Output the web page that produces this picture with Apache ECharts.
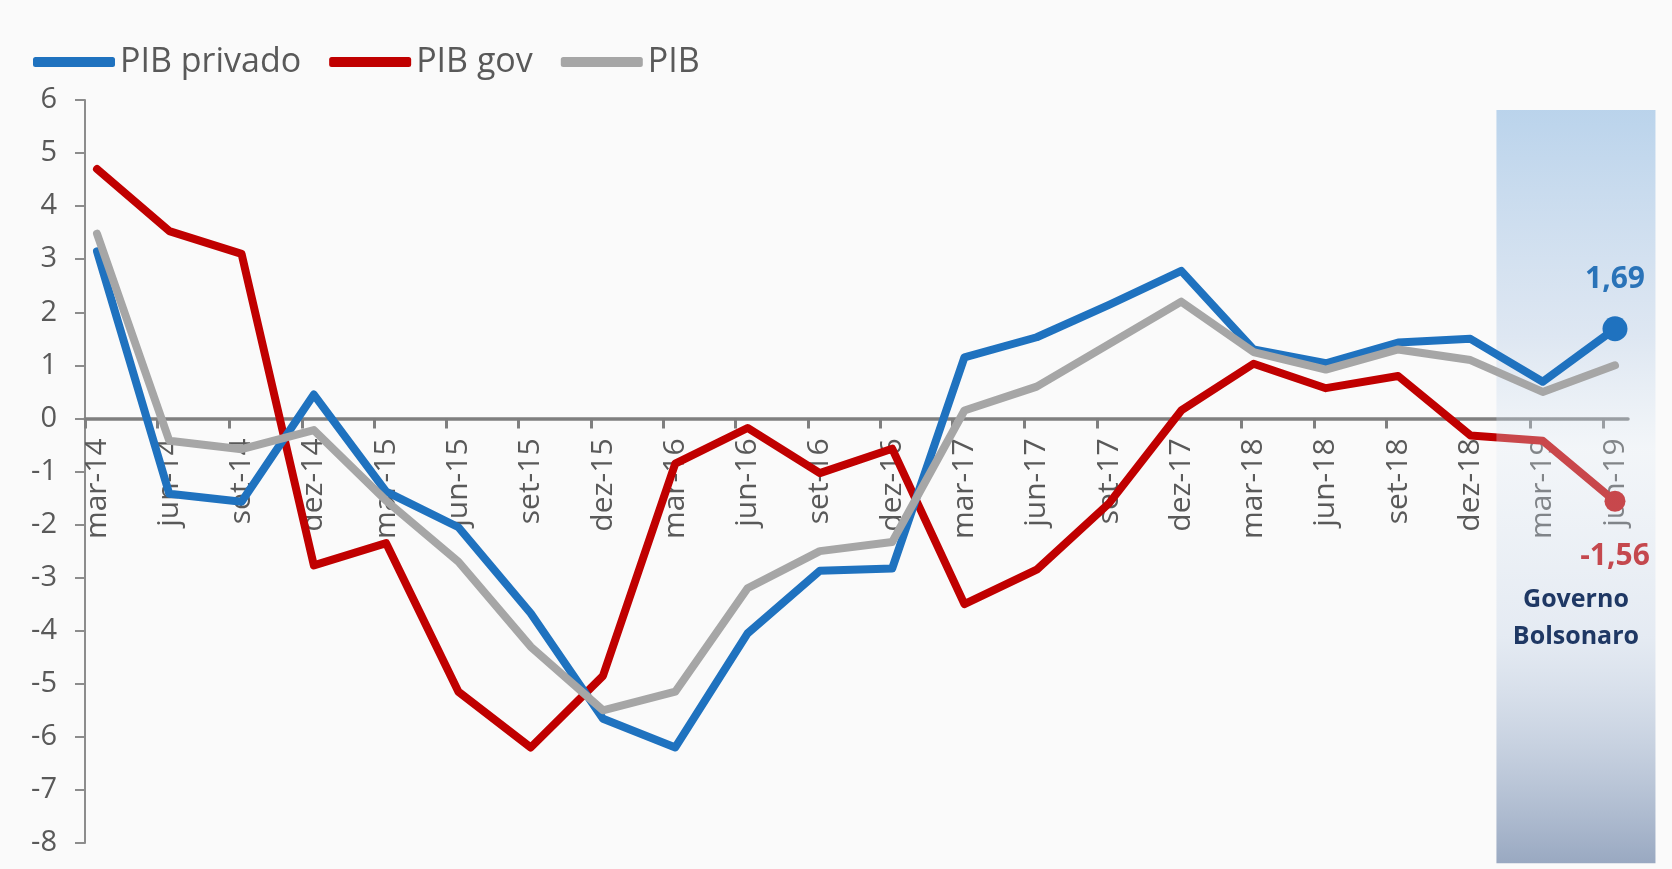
<!DOCTYPE html>
<html>
<head>
<meta charset="utf-8">
<script src="https://cdn.jsdelivr.net/npm/echarts@6/dist/echarts.min.js"></script>
<style>
html,body{margin:0;padding:0;background:#fafafa;}
#c{width:1672px;height:869px;}
</style>
</head>
<body>
<div id="c"></div>
<script>
const categories = ['mar-14','jun-14','set-14','dez-14','mar-15','jun-15','set-15','dez-15','mar-16','jun-16','set-16','dez-16','mar-17','jun-17','set-17','dez-17','mar-18','jun-18','set-18','dez-18','mar-19','jun-19'];
const pibPrivado = [3.15,-1.42,-1.57,0.45,-1.38,-2.05,-3.67,-5.66,-6.2,-4.05,-2.87,-2.83,1.15,1.53,2.14,2.78,1.3,1.04,1.43,1.5,0.69,1.69];
const pibGov = [4.7,3.53,3.1,-2.77,-2.35,-5.15,-6.2,-4.85,-0.85,-0.18,-1.03,-0.57,-3.5,-2.85,-1.6,0.15,1.03,0.57,0.8,-0.32,-0.42,-1.56];
const pib = [3.48,-0.42,-0.58,-0.22,-1.55,-2.7,-4.3,-5.5,-5.15,-3.2,-2.5,-2.33,0.15,0.6,1.4,2.2,1.25,0.92,1.3,1.1,0.5,1.0];
const seriesNames = ['PIB privado','PIB gov','PIB'];
const yMin = -8, yMax = 6, yStep = 1;
// annotation region "Governo Bolsonaro" (x in category-index units, y in axis units)
const govStartX = 19.36, govEndX = 21.56, govTopY = 5.81, govBottomY = -8.38;
const govLabel = 'Governo\nBolsonaro';

const FONT = 'Open Sans';
const W = 1672, H = 869;
const gLeft = 85, gRight = 44, gTop = 100, gBottom = 26;
const plotH = H - gTop - gBottom;
const zeroOffset = plotH * (yMax - 0) / (yMax - yMin);
const last = categories.length - 1;
const xMin = -0.166, xMax = 21.18;
const pts = arr => arr.map((v, i) => [i, v]);
const fmt = v => String(v.toFixed(2)).replace('.', ',');

const chart = echarts.init(document.getElementById('c'), null, {renderer: 'canvas'});
const option = {
  animation: false,
  backgroundColor: '#fafafa',
  textStyle: {fontFamily: FONT},
  legend: {
    left: 28, top: 37, icon: 'roundRect', itemWidth: 82, itemHeight: 10, itemGap: 28,
    textStyle: {fontSize: 34, color: '#595959', fontFamily: FONT, lineHeight: 40},
    data: seriesNames
  },
  grid: [
    {left: gLeft, right: gRight, top: gTop, bottom: gBottom, outerBoundsMode: 'none', containLabel: false},
    {left: gLeft, right: gRight, top: gTop, height: zeroOffset, outerBoundsMode: 'none', containLabel: false}
  ],
  xAxis: [
    {
      gridIndex: 0, type: 'value', min: xMin, max: xMax, show: false,
      splitLine: {show: false}
    },
    {
      gridIndex: 1, type: 'value', min: xMin, max: xMax, position: 'bottom', z: 0,
      axisLine: {show: true, onZero: false, lineStyle: {color: '#7f7f7f', width: 3.5}},
      axisTick: {show: true, length: 10, lineStyle: {color: '#7f7f7f', width: 3},
        customValues: categories.map((c, i) => i + xMin)},
      axisLabel: {rotate: 90, margin: 20, fontSize: 30, color: '#595959', fontFamily: FONT,
        customValues: categories.map((c, i) => i),
        formatter: v => categories[Math.round(v)] || ''},
      splitLine: {show: false}
    }
  ],
  yAxis: [
    {
      gridIndex: 0, type: 'value', min: yMin, max: yMax, interval: yStep,
      axisLine: {show: true, onZero: false, lineStyle: {color: '#8c8c8c', width: 2}},
      axisTick: {show: true, length: 10, lineStyle: {color: '#8c8c8c', width: 2}},
      axisLabel: {margin: 28, fontSize: 29, color: '#595959', fontFamily: FONT},
      splitLine: {show: false}
    },
    {
      gridIndex: 1, type: 'value', min: 0, max: yMax, show: false,
      splitLine: {show: false}
    }
  ],
  series: [
    {
      name: seriesNames[0], type: 'line', z: 3, xAxisIndex: 0, yAxisIndex: 0, data: pts(pibPrivado),
      lineStyle: {color: '#1f72bf', width: 8, join: 'round', cap: 'round'},
      itemStyle: {color: '#1f72bf'},
      symbol: 'circle', showSymbol: true, showAllSymbol: true,
      symbolSize: (v, p) => p.dataIndex === last ? 25 : 0,
      label: {show: true, position: 'top', distance: 22, fontSize: 30, fontWeight: 'bold',
        color: '#2a73b8', fontFamily: FONT,
        formatter: p => p.dataIndex === last ? fmt(p.value[1]) : ''},
      emphasis: {disabled: true}
    },
    {
      name: seriesNames[1], type: 'line', z: 1, xAxisIndex: 0, yAxisIndex: 0, data: pts(pibGov),
      lineStyle: {color: '#c00000', width: 8, join: 'round', cap: 'round'},
      itemStyle: {color: '#c00000'},
      symbol: 'circle', showSymbol: true, showAllSymbol: true,
      symbolSize: (v, p) => p.dataIndex === last ? 21 : 0,
      label: {show: true, position: 'bottom', distance: 30, fontSize: 30, fontWeight: 'bold',
        color: '#c00000', fontFamily: FONT,
        formatter: p => p.dataIndex === last ? fmt(p.value[1]) : ''},
      emphasis: {disabled: true}
    },
    {
      name: seriesNames[2], type: 'line', z: 3, xAxisIndex: 0, yAxisIndex: 0, data: pts(pib),
      lineStyle: {color: '#a6a6a6', width: 8, join: 'round', cap: 'round'},
      itemStyle: {color: '#a6a6a6'},
      symbol: 'none',
      emphasis: {disabled: true}
    }
  ]
};
chart.setOption(option);

const pTL = chart.convertToPixel({gridIndex: 0}, [govStartX, govTopY]);
const pBR = chart.convertToPixel({gridIndex: 0}, [govEndX, govBottomY]);
const pTxt = chart.convertToPixel({gridIndex: 0}, [(govStartX + govEndX) / 2, -3.77]);
chart.setOption({
  graphic: [
    {
      type: 'rect', z: 2, silent: true,
      shape: {x: pTL[0], y: pTL[1], width: pBR[0] - pTL[0], height: pBR[1] - pTL[1]},
      style: {
        fill: new echarts.graphic.LinearGradient(0, 0, 0, 1, [
          {offset: 0, color: 'rgba(123,173,221,0.5)'},
          {offset: 0.3, color: 'rgba(169,195,227,0.35)'},
          {offset: 0.45, color: 'rgba(225,235,245,0.3)'},
          {offset: 0.7, color: 'rgba(189,206,229,0.35)'},
          {offset: 1, color: 'rgba(112,134,169,0.7)'}
        ])
      }
    },
    {
      type: 'text', z: 5, silent: true,
      x: pTxt[0], y: pTxt[1],
      style: {text: govLabel, fill: '#1f3864', font: 'bold 25px "Open Sans"',
        align: 'center', verticalAlign: 'middle', lineHeight: 37}
    }
  ]
});
</script>
</body>
</html>
